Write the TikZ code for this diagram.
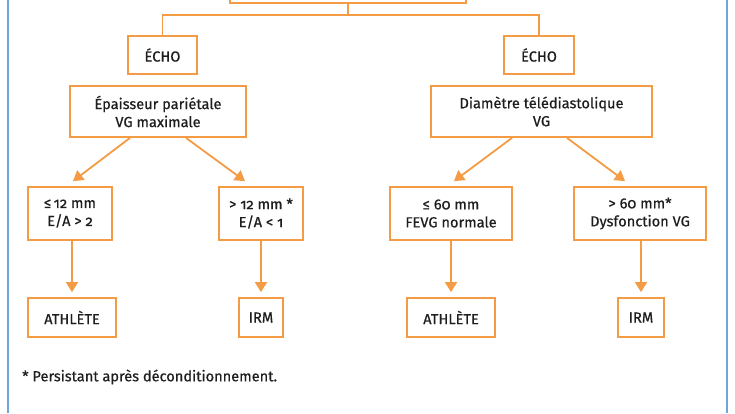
\documentclass[tikz,border=0pt]{standalone}
\usepackage{fontspec}
\setmainfont{Fira Sans}[Numbers=OldStyle,FakeBold=0.6]
\newfontfamily\boldish{Fira Sans}[Numbers=OldStyle,FakeBold=0.6]
\usetikzlibrary{arrows.meta,calc}
\definecolor{orng}{HTML}{F39B45}
\definecolor{bluel}{HTML}{6CA6DA}
\definecolor{txt}{HTML}{1E1E1E}
\begin{document}
\begin{tikzpicture}[x=1pt,y=-1pt,
  box/.style={draw=orng,line width=1.8pt,inner sep=0pt,align=center,text=txt,font=\boldish\fontsize{14.6}{18}\selectfont},
  conn/.style={draw=orng,line width=1.8pt},
  arr/.style={conn,-{Triangle[width=12pt,length=10pt]}}]
\useasboundingbox (0,0) rectangle (735,413);
\clip (0,0) rectangle (735,413);
\fill[white] (0,0) rectangle (735,413);
\draw[bluel,line width=2pt] (7.5,0) -- (7.5,413);
\draw[bluel,line width=2pt] (726.5,0) -- (726.5,413);
\node[box,minimum width=236pt,minimum height=36pt] (top) at (348,-15) {};
\node[box,minimum width=69pt,minimum height=38pt] (echo1) at (162.5,55) {ÉCHO};
\node[box,minimum width=70pt,minimum height=38pt] (echo2) at (539,55) {ÉCHO};
\node[box,minimum width=176pt,minimum height=51pt] (ep) at (158,111.5) {Épaisseur pariétale\\VG maximale};
\node[box,minimum width=221pt,minimum height=51pt] (diam) at (541.5,111.5) {Diamètre télédiastolique\\VG};
\node[box,minimum width=84pt,minimum height=53pt] (a1) at (70,213.5) {≤\,12 mm\\E/A > 2};
\node[box,minimum width=84pt,minimum height=53pt] (a2) at (261,213.5) {> 12 mm *\\E/A < 1};
\node[box,minimum width=122pt,minimum height=53pt] (b1) at (451,213.5) {≤ 60 mm\\FEVG normale};
\node[box,minimum width=132pt,minimum height=53pt] (b2) at (640,213.5) {> 60 mm*\\Dysfonction VG};
\node[box,minimum width=88pt,minimum height=39pt] (c1) at (72,317.5) {ATHLÈTE};
\node[box,minimum width=44pt,minimum height=39pt] (c2) at (261,317.5) {IRM};
\node[box,minimum width=88pt,minimum height=39pt] (d1) at (451,317.5) {ATHLÈTE};
\node[box,minimum width=46pt,minimum height=39pt] (d2) at (641,317.5) {IRM};
\node[anchor=west,inner sep=0pt,text=txt,font=\boldish\fontsize{14.6}{18}\selectfont] (note) at (22,377) {* Persistant après déconditionnement.};
\draw[conn] (top.south) -- ++(0,11) -| (echo1.north);
\draw[conn] (top.south) -- ++(0,11) -| (echo2.north);
\draw[arr] ($(ep.south)+(-28,0)$) -- ($(a1.north)+(3,-5)$);
\draw[arr] ($(ep.south)+(28,0)$) -- ($(a2.north)+(-16,-5)$);
\draw[arr] ($(diam.south)+(-29.5,0)$) -- ($(b1.north)+(3,-5)$);
\draw[arr] ($(diam.south)+(25.5,0)$) -- ($(b2.north)+(-15,-5)$);
\draw[arr,shorten >=5pt] (c1.north |- a1.south) -- (c1.north);
\draw[arr,shorten >=5pt] (a2.south) -- (c2.north);
\draw[arr,shorten >=5pt] (b1.south) -- (d1.north);
\draw[arr,shorten >=5pt] (d2.north |- b2.south) -- (d2.north);
\end{tikzpicture}
\end{document}
